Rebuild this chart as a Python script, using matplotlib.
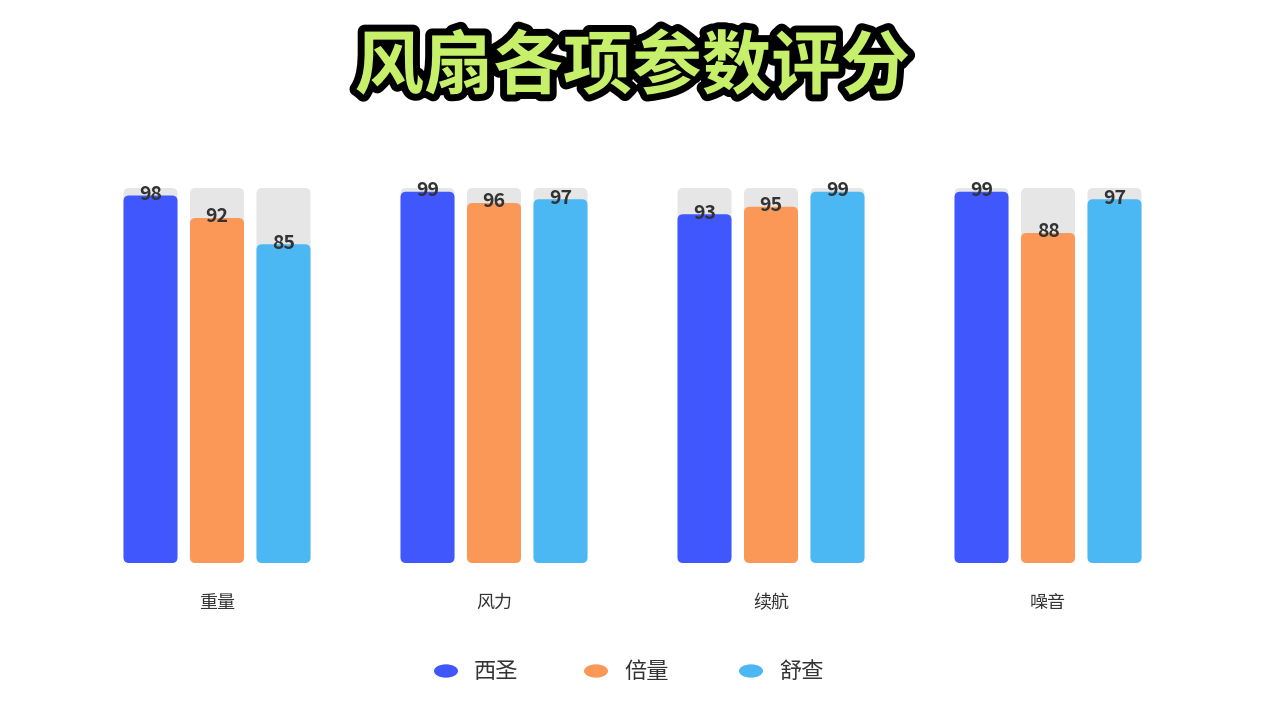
import matplotlib
matplotlib.use("Agg")
import matplotlib.pyplot as plt
from matplotlib.patches import FancyBboxPatch
import matplotlib.patheffects as pe

plt.rcParams['font.family'] = ['Noto Sans CJK SC', 'DejaVu Sans']

categories = ['重量', '风力', '续航', '噪音']
series = ['西圣', '倍量', '舒查']
values = {
    '西圣': [98, 99, 93, 99],
    '倍量': [92, 96, 95, 88],
    '舒查': [85, 97, 99, 97],
}
colors = ['#3F57FD', '#FC9857', '#4BB7F3']
max_val = 100

W, H = 1265, 703
fig = plt.figure(figsize=(W/100, H/100), dpi=100)
ax = fig.add_axes([0, (H-563)/H, 1, 375/H])
ax.set_xlim(-217/277, (W-217)/277)
ax.set_ylim(0, max_val)
ax.axis('off')

bw = 54/277
off = 66.5/277
aspect = (100/375)/(1/277)
for si, s in enumerate(series):
    for ci, v in enumerate(values[s]):
        x = ci + (si-1)*off - bw/2
        ax.add_patch(FancyBboxPatch((x, 0), bw, max_val,
                     boxstyle="round,pad=0,rounding_size=0.02",
                     mutation_aspect=aspect, fc='#E6E6E6', ec='none'))
        ax.add_patch(FancyBboxPatch((x, 0), bw, v,
                     boxstyle="round,pad=0,rounding_size=0.02",
                     mutation_aspect=aspect, fc=colors[si], ec='none'))
        ax.text(x+bw/2, v+0.3, str(v), ha='center', va='center',
                fontsize=14, fontweight='bold', color='#333333')

for ci, c in enumerate(categories):
    ax.text(ci, -10.7, c, ha='center', va='center', fontsize=13, color='#333333')

# legend
lx = [446, 596, 751]
for si, s in enumerate(series):
    fig.patches.append(matplotlib.patches.Circle((lx[si]/W, 1-671/H), 12/W*1, transform=fig.transFigure,
                                                 fc=colors[si], ec='none'))
    fig.text((lx[si]+28)/W, 1-671/H, s, ha='left', va='center', fontsize=16, color='#333333')

fig.text(0.5, 1-68/H, '风扇各项参数评分', ha='center', va='center', fontsize=50,
         fontweight='black', color='#C6F06A',
         path_effects=[pe.withStroke(linewidth=10, foreground='black')])

fig.savefig('out.png', dpi=100)
